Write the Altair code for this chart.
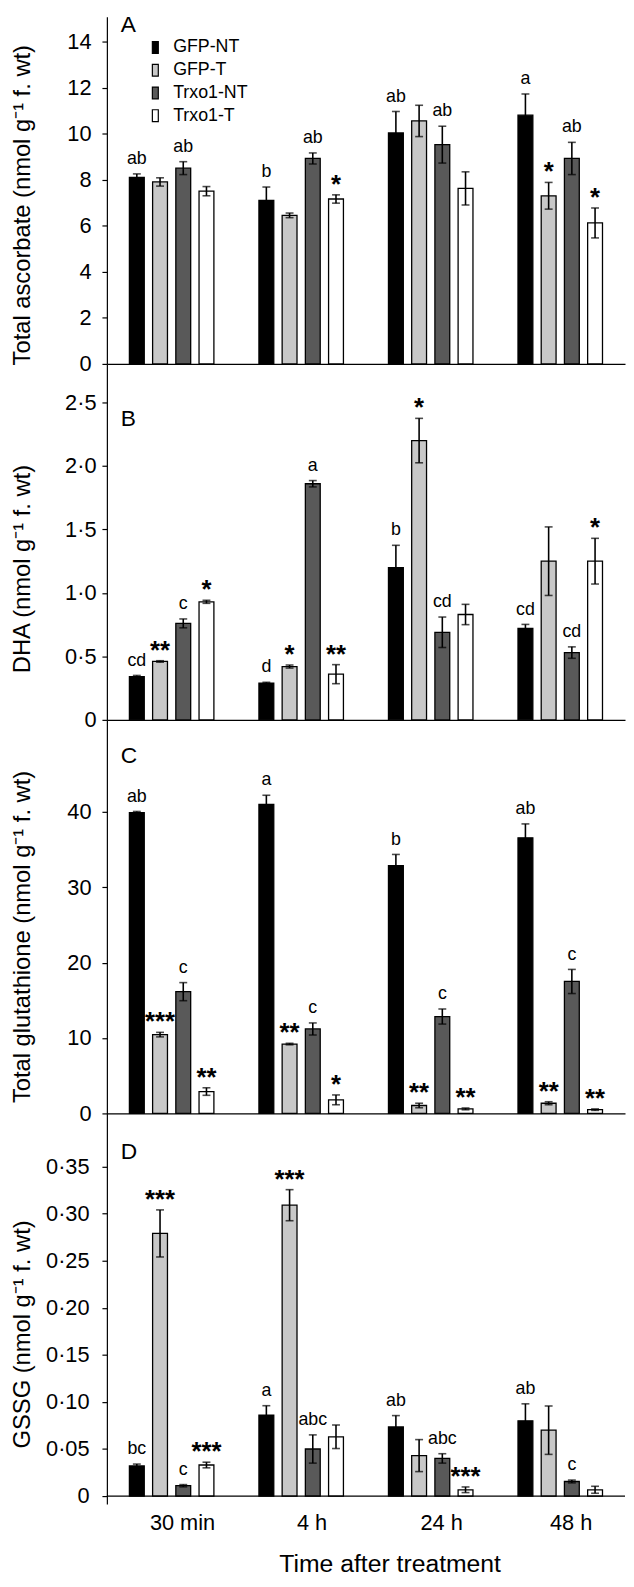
import altair as alt
import pandas as pd

FONT = "Liberation Sans"

times = ["30 min", "4 h", "24 h", "48 h"]
series = ["GFP-NT", "GFP-T", "Trxo1-NT", "Trxo1-T"]
colors = ["#000000", "#c8c8c8", "#595959", "#ffffff"]

# Panel A: total ascorbate (ordered time-major, series-minor)
asc_mean = [8.10, 7.90, 8.50, 7.50, 7.10, 6.45, 8.92, 7.16, 10.03, 10.55, 9.52, 7.62, 10.80, 7.30, 8.92, 6.12]
asc_err = [0.15, 0.18, 0.28, 0.20, 0.58, 0.10, 0.24, 0.18, 0.93, 0.68, 0.80, 0.72, 0.92, 0.58, 0.70, 0.65]
asc_lab = ["ab", "", "ab", "", "b", "", "ab", "*", "ab", "", "ab", "", "a", "*", "ab", "*"]

# Panel B: DHA
dha_mean = [0.34, 0.46, 0.76, 0.93, 0.29, 0.42, 1.86, 0.36, 1.20, 2.20, 0.69, 0.83, 0.72, 1.25, 0.53, 1.25]
dha_err = [0.01, 0.006, 0.035, 0.012, 0.006, 0.012, 0.025, 0.075, 0.175, 0.175, 0.12, 0.08, 0.032, 0.27, 0.045, 0.18]
dha_lab = ["cd", "**", "c", "*", "d", "*", "a", "**", "b", "*", "cd", "", "cd", "", "cd", "*"]

# Panel C: total glutathione
gsh_mean = [39.9, 10.45, 16.15, 2.9, 41.0, 9.2, 11.2, 1.8, 32.85, 1.05, 12.85, 0.6, 36.55, 1.35, 17.5, 0.5]
gsh_err = [0.15, 0.3, 1.2, 0.5, 1.2, 0.1, 0.8, 0.65, 1.5, 0.3, 1.0, 0.12, 1.85, 0.2, 1.6, 0.1]
gsh_lab = ["ab", "***", "c", "**", "a", "**", "c", "*", "b", "**", "c", "**", "ab", "**", "c", "**"]

# Panel D: GSSG
gssg_mean = [0.032, 0.279, 0.011, 0.033, 0.086, 0.309, 0.050, 0.063, 0.0735, 0.043, 0.040, 0.0067, 0.080, 0.070, 0.0155, 0.0067]
gssg_err = [0.002, 0.025, 0.0012, 0.003, 0.010, 0.0165, 0.015, 0.0125, 0.012, 0.017, 0.005, 0.003, 0.018, 0.0257, 0.0015, 0.0037]
gssg_lab = ["bc", "***", "c", "***", "a", "***", "abc", "", "ab", "", "abc", "***", "ab", "", "c", ""]


def make_df(mean, err, lab):
    rows = []
    for i, (m, e, l) in enumerate(zip(mean, err, lab)):
        kind = "star" if l.startswith("*") else ("letter" if l else "none")
        rows.append(dict(time=times[i // 4], series=series[i % 4], mean=m,
                         lo=m - e, hi=m + e, label=l, kind=kind))
    return pd.DataFrame(rows)


def panel(df, title, domain, ticks, height, fmt, letter, letter_y, title_y,
          label_pad, bottom=False, legend=False):
    if bottom:
        xaxis = alt.Axis(title="Time after treatment", titleFont=FONT, titleFontSize=25,
                         titleFontWeight="normal", titleColor="black", titleX=286,
                         titleY=68, titleBaseline="alphabetic",
                         labelFont=FONT, labelFontSize=22, labelColor="black",
                         labelAngle=0, labelOffset=11, labelBaseline="alphabetic",
                         labelPadding=26, ticks=False, tickSize=0, domain=False)
    else:
        xaxis = alt.Axis(title=None, labels=False, ticks=False, tickSize=0, domain=True,
                         domainColor="black", domainWidth=1.2)
    x = alt.X("time:N", sort=times, scale=alt.Scale(paddingInner=0, paddingOuter=0), axis=xaxis)
    xo = alt.XOffset("series:N", sort=series,
                     scale=alt.Scale(paddingInner=0.36, paddingOuter=0.97))
    expr = f"datum.value == 0 ? '0' : replace(format(datum.value, '{fmt}'), '.', '·')"
    yaxis = alt.Axis(values=ticks, labelExpr=expr, title=title, titleFont=FONT,
                     titleFontSize=24, titleFontWeight="normal", titleColor="black",
                     titleX=-78, titleY=title_y, titleBaseline="alphabetic",
                     labelFont=FONT, labelFontSize=22, labelColor="black",
                     labelPadding=label_pad, tickSize=5, tickColor="black",
                     tickWidth=1.2, domainColor="black", domainWidth=1.2, grid=False)
    yscale = alt.Scale(domain=domain, nice=False, zero=False)

    def Y(field):
        return alt.Y(field, scale=yscale, axis=yaxis)

    if legend:
        leg = alt.Legend(orient="none", legendX=40, legendY=22, title=None,
                         symbolType="M-0.5,-1H0.5V1H-0.5Z", symbolSize=144,
                         symbolStrokeColor="black", symbolStrokeWidth=1.2,
                         symbolOpacity=1, labelFont=FONT, labelFontSize=18,
                         labelColor="black", labelOffset=9, rowPadding=5, padding=0)
    else:
        leg = None
    fill = alt.Fill("series:N", sort=series, scale=alt.Scale(domain=series, range=colors),
                    legend=leg)

    base = alt.Chart(df)
    bars = base.mark_bar(stroke="black", strokeWidth=1.3).encode(
        x=x, xOffset=xo, y=Y("mean:Q"), y2=alt.datum(0), fill=fill)
    rule = base.mark_rule(color="black", strokeWidth=1.6).encode(
        x=x, xOffset=xo, y=Y("lo:Q"), y2="hi:Q")
    cap_hi = base.mark_tick(color="black", thickness=1.6, size=8).encode(
        x=x, xOffset=xo, y=Y("hi:Q"))
    cap_lo = base.mark_tick(color="black", thickness=1.6, size=8).encode(
        x=x, xOffset=xo, y=Y("lo:Q"))
    letters = base.transform_filter(alt.datum.kind == "letter").mark_text(
        font=FONT, fontSize=18, baseline="alphabetic", dy=-10, color="black").encode(
        x=x, xOffset=xo, y=Y("hi:Q"), text="label:N")
    stars = base.transform_filter(alt.datum.kind == "star").mark_text(
        font=FONT, fontSize=26, fontWeight="bold", baseline="alphabetic", dy=-2,
        color="black").encode(
        x=x, xOffset=xo, y=Y("hi:Q"), text="label:N")
    tag = alt.Chart(pd.DataFrame({"t": [letter]})).mark_text(
        font=FONT, fontSize=23, align="left", baseline="alphabetic", color="black").encode(
        text="t:N", x=alt.value(14), y=alt.value(letter_y))
    layers = [bars, rule, cap_hi, cap_lo, letters, stars, tag]
    if legend:
        # invisible anchor that fixes the chart's outer bounds (top-left)
        anchor = alt.Chart(pd.DataFrame({"t": ["."]})).mark_text(
            opacity=0, fontSize=4, align="left", baseline="top").encode(
            text="t:N", x=alt.value(-120), y=alt.value(-60))
        layers.append(anchor)
    if bottom:
        zero = alt.Chart(pd.DataFrame({"v": [0.0]})).mark_rule(
            color="black", strokeWidth=1.2).encode(y=Y("v:Q"))
        layers.append(zero)
    return alt.layer(*layers).properties(width=524, height=height)


pA = panel(make_df(asc_mean, asc_err, asc_lab), "Total ascorbate (nmol g⁻¹ f. wt)",
           [0, 15.07], [0, 2, 4, 6, 8, 10, 12, 14], 351, "d", "A", 15, 190, 11, legend=True)
pB = panel(make_df(dha_mean, dha_err, dha_lab), "DHA (nmol g⁻¹ f. wt)",
           [0, 2.804], [0, 0.5, 1.0, 1.5, 2.0, 2.5], 360, ".1f", "B", 63, 207, 6)
pC = panel(make_df(gsh_mean, gsh_err, gsh_lab), "Total glutathione (nmol g⁻¹ f. wt)",
           [0, 52.2], [0, 10, 20, 30, 40], 398, "d", "C", 44, 219, 11)
pD = panel(make_df(gssg_mean, gssg_err, gssg_lab), "GSSG (nmol g⁻¹ f. wt)",
           [-0.0084, 0.4065], [0, 0.05, 0.10, 0.15, 0.20, 0.25, 0.30, 0.35], 395, ".2f",
           "D", 46, 223, 13, bottom=True)

chart = alt.vconcat(pA, pB, pC, pD, spacing=0, bounds="flush").resolve_scale(
    y="independent", fill="independent").configure_view(stroke=None).properties(
    padding={"left": -20, "top": -60, "right": 0, "bottom": 0})

chart.save("out.html", embed_options={"renderer": "svg", "actions": False})
